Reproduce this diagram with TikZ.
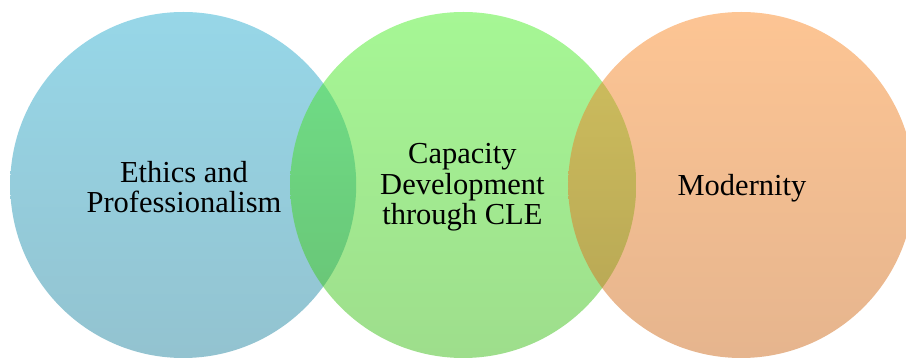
\documentclass[tikz,border=0pt]{standalone}
\usepackage{fontspec}
\setmainfont{Liberation Serif}
\definecolor{bluetop}{RGB}{47,175,209}
\definecolor{bluebot}{RGB}{39,135,161}
\definecolor{greentop}{RGB}{77,239,43}
\definecolor{greenbot}{RGB}{61,189,25}
\definecolor{orangetop}{RGB}{251,139,41}
\definecolor{orangebot}{RGB}{205,107,29}
\tikzset{
	label text/.style={align=center, font=\fontsize{21.7}{21.5}\selectfont, text=black}
}
\begin{document}
\begin{tikzpicture}
			\useasboundingbox (0,0) rectangle (22.65,8.95);
			
			\shade[top color=bluetop, bottom color=bluebot, fill opacity=0.5] (4.58,4.325) circle (4.325);
			\shade[top color=greentop, bottom color=greenbot, fill opacity=0.5] (11.58,4.325) circle (4.325);
			\shade[top color=orangetop, bottom color=orangebot, fill opacity=0.5] (18.53,4.325) circle (4.325);
			
			\node[label text] (ethics) at (4.6,4.28) {Ethics and\\Professionalism};
			\node[label text] (capacity) at (11.56,4.27) {Capacity\\Development\\through CLE};
			\node[label text] (modernity) at (18.55,4.24) {Modernity};

	\end{tikzpicture}
\end{document}
